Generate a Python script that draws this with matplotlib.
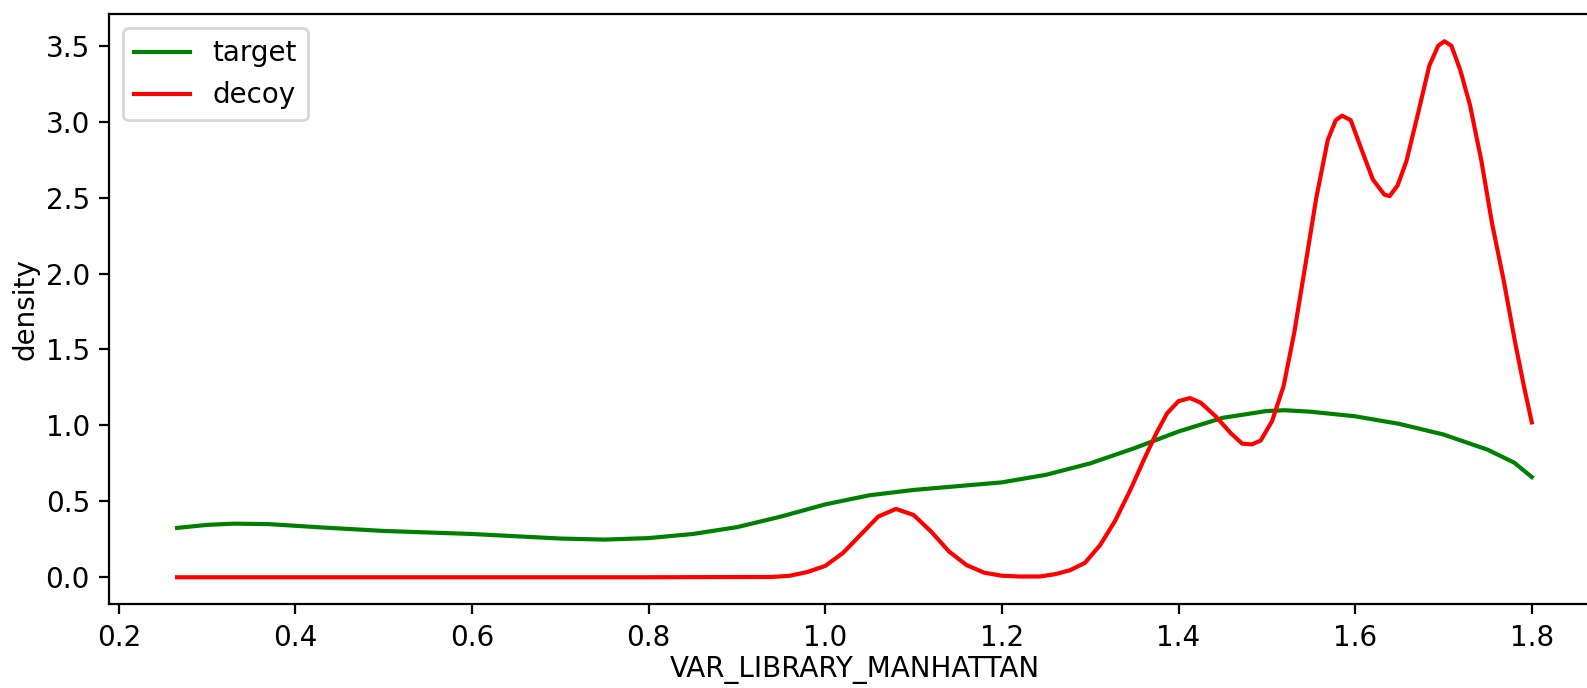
import matplotlib
matplotlib.use('Agg')
import matplotlib.pyplot as plt

# values
target_x = [0.266, 0.30, 0.33, 0.37, 0.43, 0.50, 0.60, 0.70, 0.75, 0.80, 0.85, 0.90,
            0.95, 1.00, 1.05, 1.10, 1.15, 1.20, 1.25, 1.30, 1.35, 1.40, 1.45, 1.50,
            1.52, 1.55, 1.60, 1.65, 1.70, 1.75, 1.78, 1.80]
target_y = [0.325, 0.345, 0.353, 0.350, 0.328, 0.305, 0.285, 0.255, 0.248, 0.258, 0.285, 0.330,
            0.400, 0.480, 0.540, 0.575, 0.600, 0.625, 0.675, 0.750, 0.850, 0.960, 1.050, 1.095,
            1.100, 1.090, 1.060, 1.010, 0.940, 0.840, 0.755, 0.660]

decoy_x = [0.266, 0.50, 0.80, 0.94, 0.96, 0.98, 1.00, 1.02, 1.04, 1.06, 1.08, 1.10,
           1.12, 1.14, 1.16, 1.18, 1.20, 1.22, 1.243, 1.26, 1.277, 1.294, 1.311, 1.328,
           1.345, 1.362, 1.375, 1.387, 1.400, 1.413, 1.425, 1.442, 1.459, 1.472, 1.483,
           1.493, 1.506, 1.519, 1.531, 1.544, 1.556, 1.569, 1.578, 1.585, 1.595, 1.607,
           1.620, 1.633, 1.639, 1.648, 1.658, 1.671, 1.684, 1.694, 1.701, 1.709, 1.719,
           1.730, 1.743, 1.755, 1.768, 1.781, 1.791, 1.800]
decoy_y = [0.0, 0.0, 0.0, 0.002, 0.01, 0.035, 0.075, 0.16, 0.28, 0.40, 0.45, 0.41,
           0.30, 0.17, 0.08, 0.03, 0.01, 0.005, 0.005, 0.02, 0.046, 0.095, 0.21, 0.37,
           0.57, 0.79, 0.95, 1.08, 1.16, 1.18, 1.15, 1.06, 0.95, 0.88, 0.875,
           0.90, 1.03, 1.26, 1.61, 2.07, 2.50, 2.88, 3.01, 3.04, 3.01, 2.82,
           2.62, 2.52, 2.51, 2.58, 2.74, 3.05, 3.37, 3.50, 3.53, 3.50, 3.34,
           3.11, 2.74, 2.33, 1.96, 1.55, 1.26, 1.02]

fig = plt.figure(figsize=(1587 / 200, 688 / 200), dpi=200)
ax = fig.add_axes([0.0689, 0.122, 0.939, 0.857])

ax.plot(target_x, target_y, color='green', label='target')
ax.plot(decoy_x, decoy_y, color='red', label='decoy')

ax.set_xlabel('VAR_LIBRARY_MANHATTAN', labelpad=1.5)
ax.set_ylabel('density', labelpad=2)
ax.legend(loc='upper left')

fig.savefig('out.png', dpi=200)
